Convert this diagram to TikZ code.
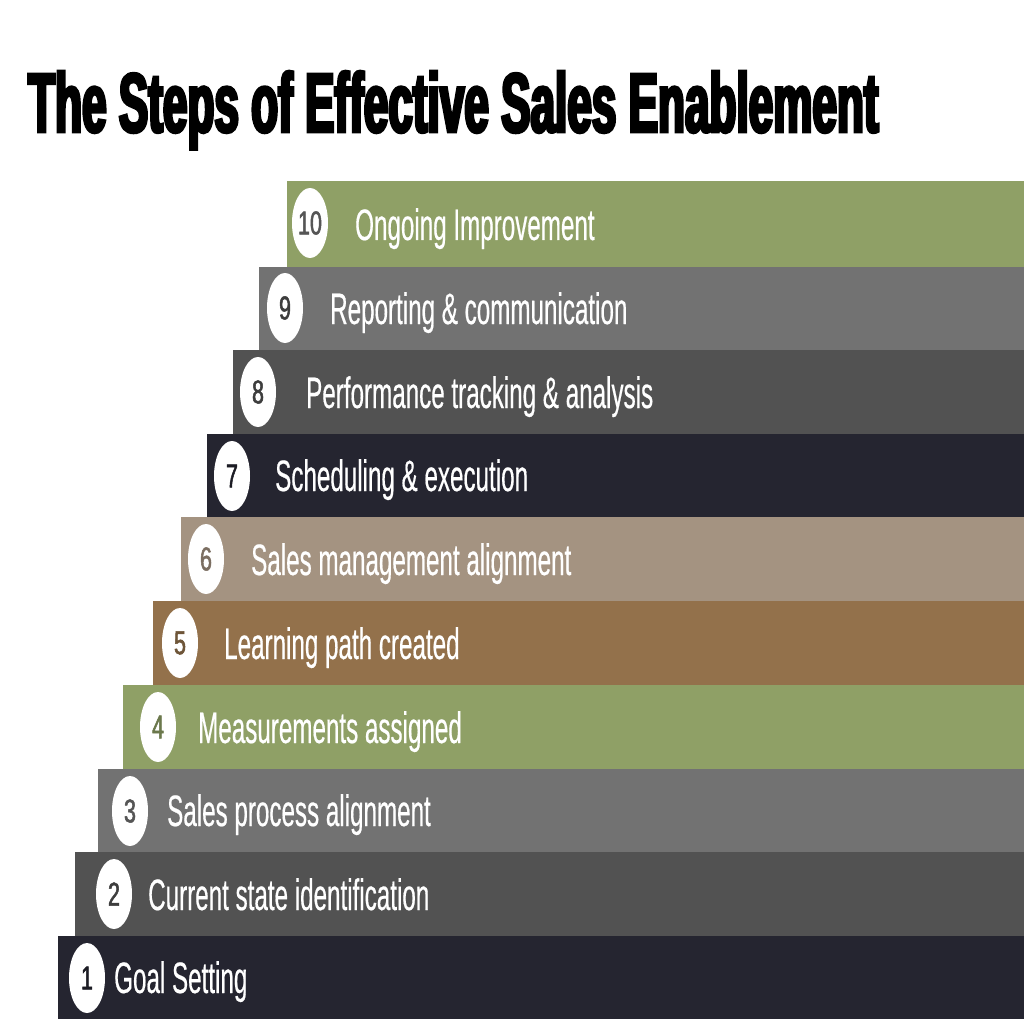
\documentclass[tikz,border=0pt]{standalone}
\usepackage{fontspec}
\usepackage{tikz}
\usetikzlibrary{shapes.geometric}
\newfontfamily\titlefont[FakeStretch=0.525,FakeBold=3.5]{Liberation Sans}
\newfontfamily\stepfont[FakeStretch=0.55,FakeBold=0.4]{Liberation Sans}
\newfontfamily\numfont[FakeStretch=0.65,FakeBold=1.5]{Liberation Sans}
\definecolor{stepgreen}{HTML}{8FA066}
\definecolor{stepgray}{HTML}{727272}
\definecolor{stepdark}{HTML}{525252}
\definecolor{stepnavy}{HTML}{252530}
\definecolor{steptan}{HTML}{A49381}
\definecolor{stepbrown}{HTML}{93714B}

\begin{document}
\begin{tikzpicture}[x=1pt, y=-1pt,
  bar/.style={fill=#1},
  num/.style={ellipse, fill=white, minimum width=36pt, minimum height=70pt, inner sep=0pt, text=#1!75!black, font=\numfont\fontsize{33}{33}\selectfont},
  steplabel/.style={anchor=base west, inner sep=0pt, text=white, font=\stepfont\fontsize{44}{44}\selectfont}]
  \useasboundingbox[fill=white] (0,0) rectangle (1024,1024);

  \node [anchor=base west, inner sep=0pt, font=\titlefont\bfseries\fontsize{84}{84}\selectfont] (title) at (28,132) {The Steps of Effective Sales Enablement};

  \fill[bar=stepgreen] (287,181) rectangle (1024,267); % krok 10
  \fill[bar=stepgray]  (259,267) rectangle (1024,350); % krok 9
  \fill[bar=stepdark]  (233,350) rectangle (1024,434); % krok 8
  \fill[bar=stepnavy]  (207,434) rectangle (1024,517); % krok 7
  \fill[bar=steptan]   (181,517) rectangle (1024,601); % krok 6
  \fill[bar=stepbrown] (153,601) rectangle (1024,685); % krok 5
  \fill[bar=stepgreen] (123,685) rectangle (1024,769); % krok 4
  \fill[bar=stepgray]  (98,769) rectangle (1024,852);  % krok 3
  \fill[bar=stepdark]  (75,852) rectangle (1024,936);  % krok 2
  \fill[bar=stepnavy]  (58,936) rectangle (1024,1019); % krok 1

  \node [num=stepgray]  (n10) at (310,223) {10};
  \node [num=stepdark]  (n9)  at (285,308) {9};
  \node [num=stepdark]  (n8)  at (258,392) {8};
  \node [num=stepnavy]  (n7)  at (232,476) {7};
  \node [num=steptan]   (n6)  at (206,559) {6};
  \node [num=stepbrown] (n5)  at (180,643) {5};
  \node [num=stepgreen] (n4)  at (158,727) {4};
  \node [num=stepgray]  (n3)  at (130,811) {3};
  \node [num=stepdark]  (n2)  at (114,894) {2};
  \node [num=stepnavy]  (n1)  at (87,978) {1};

  \node [steplabel] (t10) at (355,240) {Ongoing Improvement};
  \node [steplabel] (t9)  at (330,324) {Reporting \& communication};
  \node [steplabel] (t8)  at (306,408) {Performance tracking \& analysis};
  \node [steplabel] (t7)  at (275,491) {Scheduling \& execution};
  \node [steplabel] (t6)  at (251,575) {Sales management alignment};
  \node [steplabel] (t5)  at (224,659) {Learning path created};
  \node [steplabel] (t4)  at (198,743) {Measurements assigned};
  \node [steplabel] (t3)  at (167,826) {Sales process alignment};
  \node [steplabel] (t2)  at (148,910) {Current state identification};
  \node [steplabel] (t1)  at (114,993) {Goal Setting};
\end{tikzpicture}
\end{document}
